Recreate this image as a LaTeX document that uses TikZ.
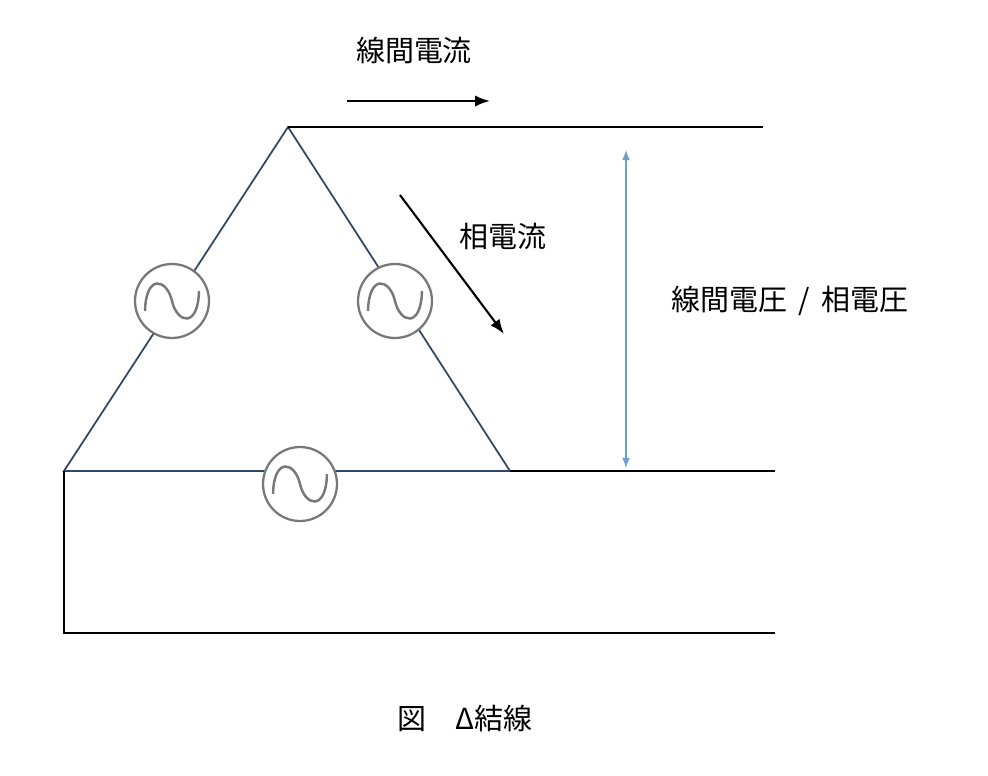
\documentclass[tikz,border=0pt]{standalone}
\usepackage{fontspec}
\setmainfont{Noto Sans CJK JP}
\usetikzlibrary{arrows.meta, positioning}
\definecolor{wireblue}{RGB}{47,72,100}
\definecolor{srcgray}{RGB}{120,120,120}
\definecolor{vblue}{RGB}{110,160,205}
\begin{document}
\begin{tikzpicture}[x=0.02cm, y=-0.02cm,
        src/.style={circle, draw=srcgray, line width=1.3pt, fill=white, minimum size=1.48cm, inner sep=0pt},
        lbl/.style={font=\fontsize{16.5}{20}\selectfont, inner sep=0pt},
        wire/.style={draw=black, line width=1pt}
    ]
    \useasboundingbox (0,0) rectangle (988,775);

    % delta corners
    \coordinate (top) at (288,127);
    \coordinate (left) at (64,471);
    \coordinate (right) at (510,471);
    \draw[draw=wireblue, line width=1pt] (top) -- (left) -- (right) -- cycle;

    % outgoing lines
    \coordinate (topend) at (763,127);
    \coordinate (midend) at (775,471);
    \coordinate (corner) at (64,633);
    \coordinate (botend) at (775,633);
    \draw[wire] (top) -- (topend);
    \draw[wire] (right) -- (midend);
    \draw[wire] (left) -- (corner) -- (botend);

    % sources
    \foreach \name/\x/\y in {srcA/172/301, srcB/395/301, srcC/300/484}{
        \node[src] (\name) at (\x,\y) {};
        \draw[srcgray, line width=1.4pt] (\x-27,\y+10)
            .. controls (\x-26,\y-28) and (\x-5,\y-22) .. (\x,\y)
            .. controls (\x+5,\y+22) and (\x+26,\y+28) .. (\x+27,\y-10);
    }

    % currents
    \coordinate (lcA) at (347,101);
    \coordinate (lcB) at (490,101);
    \draw[-Latex, line width=1.2pt] (lcA) -- (lcB);
    \node[lbl] (linecur) at (414,50) {線間電流};

    \coordinate (pcA) at (400,195);
    \coordinate (pcB) at (504,334);
    \draw[-Latex, line width=1.2pt] (pcA) -- (pcB);
    \node[lbl] (phasecur) at (503,236) {相電流};

    % voltage
    \coordinate (vA) at (626,150);
    \coordinate (vB) at (626,468);
    \draw[Latex-Latex, vblue, line width=0.6pt] (vA) -- (vB);
    \node[lbl] (volt) at (790,301) {線間電圧 \,/\, 相電圧};

    \node[lbl] (caption) at (465,718) {図\quad Δ結線};
\end{tikzpicture}
\end{document}
